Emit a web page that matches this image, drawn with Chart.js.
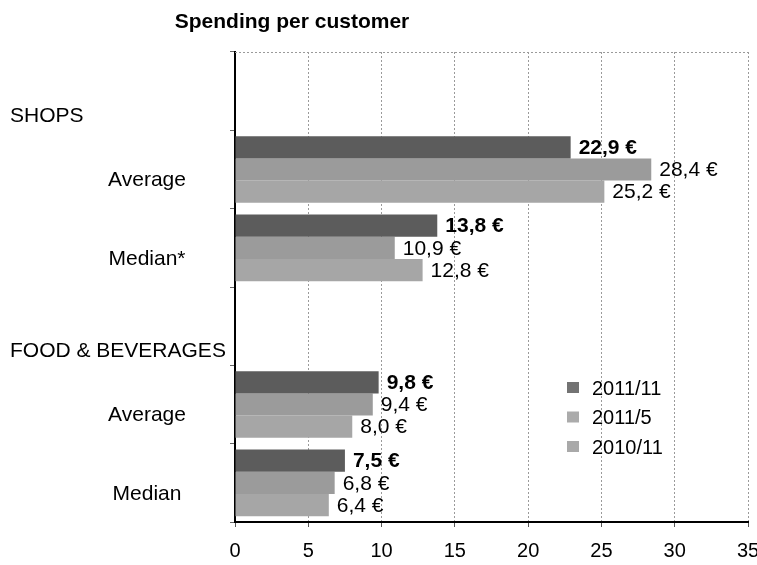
<!DOCTYPE html>
<html>
<head>
<meta charset="utf-8">
<title>Spending per customer</title>
<script src="https://cdn.jsdelivr.net/npm/chart.js@4"></script>
<style>
  html, body { margin: 0; padding: 0; background: #fff; }
  canvas { display: block; }
</style>
</head>
<body>
<canvas id="spend" width="757" height="565"></canvas>
<script>
// Spending per customer, by survey round
const categories = ['SHOPS', 'Average', 'Median*', 'FOOD & BEVERAGES', 'Average', 'Median'];
const seriesNames = ['2011/11', '2011/5', '2010/11'];
const round201111 = [null, 22.9, 13.8, null, 9.8, 7.5];
const round20115 = [null, 28.4, 10.9, null, 9.4, 6.8];
const round201011 = [null, 25.2, 12.8, null, 8.0, 6.4];
const xTicks = [0, 5, 10, 15, 20, 25, 30, 35];

const FONT = 'Arial, "Liberation Sans", sans-serif';
const barColors = ['#5c5c5c', '#9b9b9b', '#a6a6a6'];
const swatchColors = ['#737373', '#ababab', '#a9a9a9'];

const euro = v => v.toFixed(1).replace('.', ',') + ' €';

// title, category labels, value labels, top border and the in-plot legend
const decorations = {
  id: 'decorations',
  afterDraw(chart) {
    const { ctx, chartArea, scales } = chart;
    ctx.save();

    // title
    ctx.fillStyle = '#000';
    ctx.font = 'bold 21px ' + FONT;
    ctx.textAlign = 'center';
    ctx.textBaseline = 'middle';
    ctx.fillText('Spending per customer', 292, 22);

    // dotted top edge of the plot
    ctx.strokeStyle = '#9a9a9a';
    ctx.lineWidth = 1;
    ctx.setLineDash([2, 2]);
    ctx.beginPath();
    ctx.moveTo(chartArea.left, chartArea.top + 0.5);
    ctx.lineTo(chartArea.right, chartArea.top + 0.5);
    ctx.stroke();
    ctx.setLineDash([]);

    // category labels: group headers flush left, rows centred
    ctx.font = '21px ' + FONT;
    ctx.fillStyle = '#000';
    categories.forEach((name, i) => {
      const yc = scales.y.getPixelForValue(i);
      const isHeader = chart.data.datasets.every(ds => ds.data[i] === null);
      if (isHeader) {
        ctx.textAlign = 'left';
        ctx.fillText(name, 10, yc + 25);
      } else {
        ctx.textAlign = 'center';
        ctx.fillText(name, 147, yc + 11);
      }
    });

    // value labels at the bar ends
    ctx.textAlign = 'left';
    chart.data.datasets.forEach((ds, di) => {
      const meta = chart.getDatasetMeta(di);
      ctx.font = (di === 0 ? 'bold ' : '') + '21px ' + FONT;
      meta.data.forEach((bar, i) => {
        const v = ds.data[i];
        if (v === null) return;
        ctx.fillText(euro(v), bar.x + 8, bar.y + 1);
      });
    });

    // legend
    ctx.font = '20px ' + FONT;
    chart.data.datasets.forEach((ds, di) => {
      const y = 388 + di * 29.5;
      ctx.fillStyle = swatchColors[di];
      ctx.fillRect(567, y - 6, 12, 11);
      ctx.fillStyle = '#000';
      ctx.fillText(ds.label, 592, y + 1);
    });

    ctx.restore();
  }
};

new Chart(document.getElementById('spend'), {
  type: 'bar',
  data: {
    labels: categories,
    datasets: [round201111, round20115, round201011].map((vals, i) => ({
      label: seriesNames[i],
      data: vals,
      backgroundColor: barColors[i],
      borderWidth: 0,
      categoryPercentage: 0.85,
      barPercentage: 1.0
    }))
  },
  options: {
    indexAxis: 'y',
    responsive: false,
    animation: false,
    devicePixelRatio: 1,
    layout: { padding: { top: 52, right: 9, left: 0, bottom: 0 } },
    plugins: {
      legend: { display: false },
      title: { display: false },
      tooltip: { enabled: false }
    },
    scales: {
      x: {
        min: 0,
        max: 35,
        afterBuildTicks: s => { s.ticks = xTicks.map(v => ({ value: v })); },
        afterFit: s => {
          s.height = 43;
          s.paddingLeft = 0;
          s.paddingRight = 0;
        },
        ticks: {
          color: '#000',
          font: { family: FONT, size: 20 },
          padding: 12,
          maxRotation: 0
        },
        grid: {
          color: '#9a9a9a',
          lineWidth: 1,
          tickLength: 5,
          tickColor: '#555'
        },
        border: { color: '#000', width: 2, dash: [2, 2] }
      },
      y: {
        afterFit: s => { s.width = 235; },
        ticks: { display: false },
        grid: {
          offset: true,
          drawOnChartArea: false,
          tickLength: 5,
          tickColor: '#666'
        },
        border: { color: '#000', width: 2 }
      }
    }
  },
  plugins: [decorations]
});
</script>
</body>
</html>
